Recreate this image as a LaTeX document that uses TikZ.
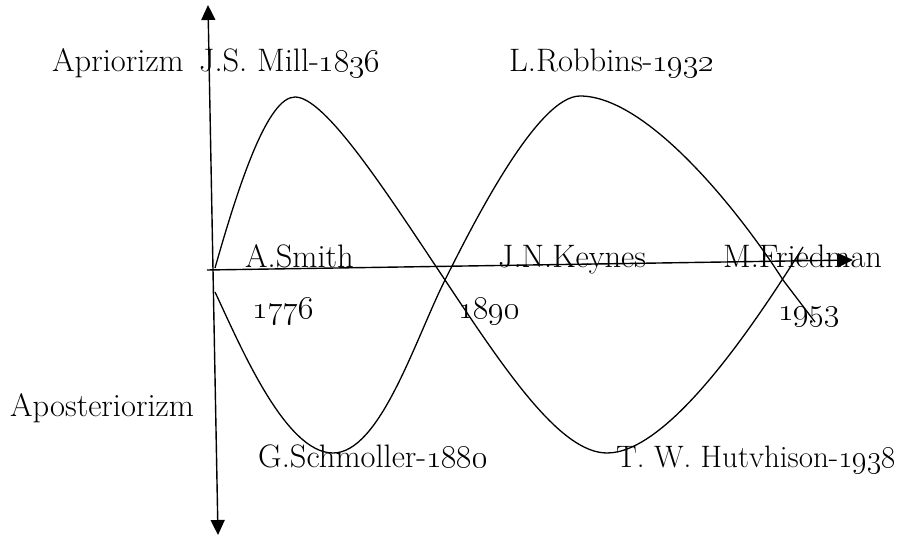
\RequirePackage{fix-cm}
\documentclass[tikz,border=0pt]{standalone}
\usetikzlibrary{arrows.meta}
\usetikzlibrary{positioning}

\begin{document}
\begin{tikzpicture}[x=1pt, y=-1pt,
    every node/.style={inner sep=0pt, anchor=base west, font=\fontsize{32.5}{38}\selectfont},
    tip/.style={-{Triangle[length=15pt, width=14pt]}},
    axis/.style={line width=1.4pt},
    wave/.style={line width=1.3pt}]

        \useasboundingbox (0,0) rectangle (907,537);

        % Axis end points
        \coordinate (origin) at (207,270);
        \coordinate (east) at (853,260);
        \coordinate (north) at (208,5);
        \coordinate (south) at (218,535);

        % Axes
        \draw[axis, tip] (origin) -- (east);
        \draw[axis, {Triangle[length=15pt, width=14pt]}-{Triangle[length=15pt, width=14pt]}] (north) -- (south);

        % Points where the waves turn and cross
        \coordinate (startA) at (215,268);
        \coordinate (startB) at (215,292);
        \coordinate (peakA) at (295,97);
        \coordinate (peakB) at (580,96);
        \coordinate (troughA) at (607,453);
        \coordinate (troughB) at (333,453);
        \coordinate (crossL) at (445,280);
        \coordinate (crossR) at (783,280);
        \coordinate (endA) at (803,247);
        \coordinate (endB) at (815,322);

        % First wave: up to Mill, down to Hutchison
        \draw[wave] (startA) .. controls (240,180) and (268,97) .. (peakA)
          .. controls (325,97) and (385,190) .. (crossL)
          .. controls (505,370) and (560,453) .. (troughA)
          .. controls (665,453) and (745,340) .. (endA);

        % Second wave: down to Schmoller, up to Robbins
        \draw[wave] (startB) .. controls (240,345) and (285,453) .. (troughB)
          .. controls (380,453) and (415,340) .. (crossL)
          .. controls (475,220) and (538,96) .. (peakB)
          .. controls (650,96) and (745,220) .. (crossR) -- (endB);

        % Side labels
        \node (apriori) at (52,72) {Apriorizm};
        \node (aposteriori) at (10,416) {Aposteriorizm};

        % Upper labels
        \node (mill) at (199,72) {J.S. Mill-\oldstylenums{1836}};
        \node (robbins) at (509,72) {L.Robbins-\oldstylenums{1932}};

        % Labels on the axis
        \node (smith) at (245,268) {A.Smith};
        \node (keynes) at (498,268) {J.N.Keynes};
        \node (friedman) at (723,268) {M.Friedman};

        % Years below the axis
        \node (y1776) at (252,318) {\oldstylenums{1776}};
        \node (y1890) at (458,318) {\oldstylenums{1890}};
        \node (y1953) at (778,320) {\oldstylenums{1953}};

        % Lower labels
        \node (schmoller) at (258,467) {G.Schmoller-\oldstylenums{1880}};
        \node[font=\fontsize{31}{36}\selectfont] (hutchison) at (616,467) {T. W. Hutvhison-\oldstylenums{1938}};

      \end{tikzpicture}
\end{document}
